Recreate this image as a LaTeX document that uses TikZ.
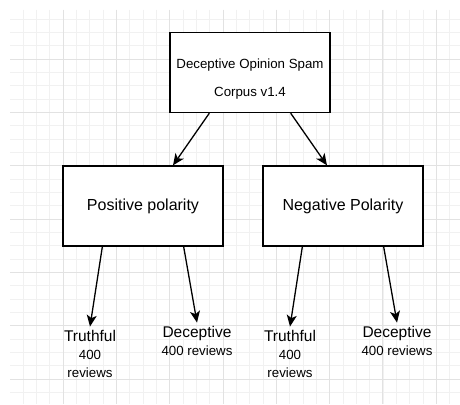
\documentclass[tikz,border=0pt]{standalone}
\usepackage{fontspec}
\setmainfont{Liberation Sans}
\usetikzlibrary{arrows.meta,positioning}
\definecolor{gridminor}{RGB}{241,241,241}
\definecolor{gridmajor}{RGB}{226,226,226}
\tikzset{
  box/.style={draw=black,line width=1.3pt,fill=white,minimum width=160pt,minimum height=80pt,inner sep=0pt,font=\fontsize{16}{19}\selectfont},
  arr/.style={-{Stealth[length=11.5pt,width=10pt,inset=3pt]},draw=black,line width=1.3pt},
  head/.style={inner sep=3pt,font=\fontsize{15.5}{18}\selectfont},
  sub/.style={inner sep=1pt,align=center,font=\fontsize{13.3}{18}\selectfont},
  minorline/.style={draw=gridminor,line width=0.9pt},
  majorline/.style={draw=gridmajor,line width=1pt}
}

\begin{document}
\begin{tikzpicture}[x=1pt,y=-1pt]
  \useasboundingbox[fill=white] (0,0) rectangle (460,404);

  % Background grid
  \begin{scope}
    \clip (10,10) rectangle (460,404);
    \foreach \i in {0,...,33}
      \draw[minorline] (9.67+13.333*\i,10) -- (9.67+13.333*\i,404);
    \foreach \j in {1,...,29}
      \draw[minorline] (10,5.9+13.333*\j) -- (460,5.9+13.333*\j);
    \foreach \i in {0,4,...,32}
      \draw[majorline] (9.67+13.333*\i,10) -- (9.67+13.333*\i,404);
    \foreach \j in {4,8,...,28}
      \draw[majorline] (10,5.9+13.333*\j) -- (460,5.9+13.333*\j);
  \end{scope}

  % Corpus and the two polarities
  \node[box] (corpus) at (250,72.5) {};
  \node[align=center,inner sep=0pt,font=\fontsize{13.3}{28}\selectfont] (corpustxt) at (250,79) {Deceptive Opinion Spam\\Corpus v1.4};
  \node[box] (pos) at (143,206) {Positive polarity};
  \node[box] (neg) at (343,206) {Negative Polarity};

  % Review counts
  \node[head,anchor=base] (ptruth) at (90,341) {Truthful};
  \node[sub] (ptruthn) at (90,364) {400\\reviews};
  \node[head,anchor=base] (pdecep) at (197,337) {Deceptive};
  \node[sub] (pdecepn) at (197,351) {400 reviews};
  \node[head,anchor=base] (ntruth) at (290,341) {Truthful};
  \node[sub] (ntruthn) at (290,364) {400\\reviews};
  \node[head,anchor=base] (ndecep) at (397,337) {Deceptive};
  \node[sub] (ndecepn) at (397,351) {400 reviews};

  \draw[arr] (corpus.south west) ++(40,0) -- ([xshift=30pt]pos.north);
  \draw[arr] (corpus.south east) ++(-40,0) -- ([xshift=-16pt]neg.north);
  \draw[arr] (pos.south west) ++(40,0) -- (ptruth.north);
  \draw[arr] (pos.south east) ++(-40,0) -- (pdecep.north);
  \draw[arr] (neg.south west) ++(40,0) -- (ntruth.north);
  \draw[arr] (neg.south east) ++(-40,0) -- (ndecep.north);
\end{tikzpicture}
\end{document}
